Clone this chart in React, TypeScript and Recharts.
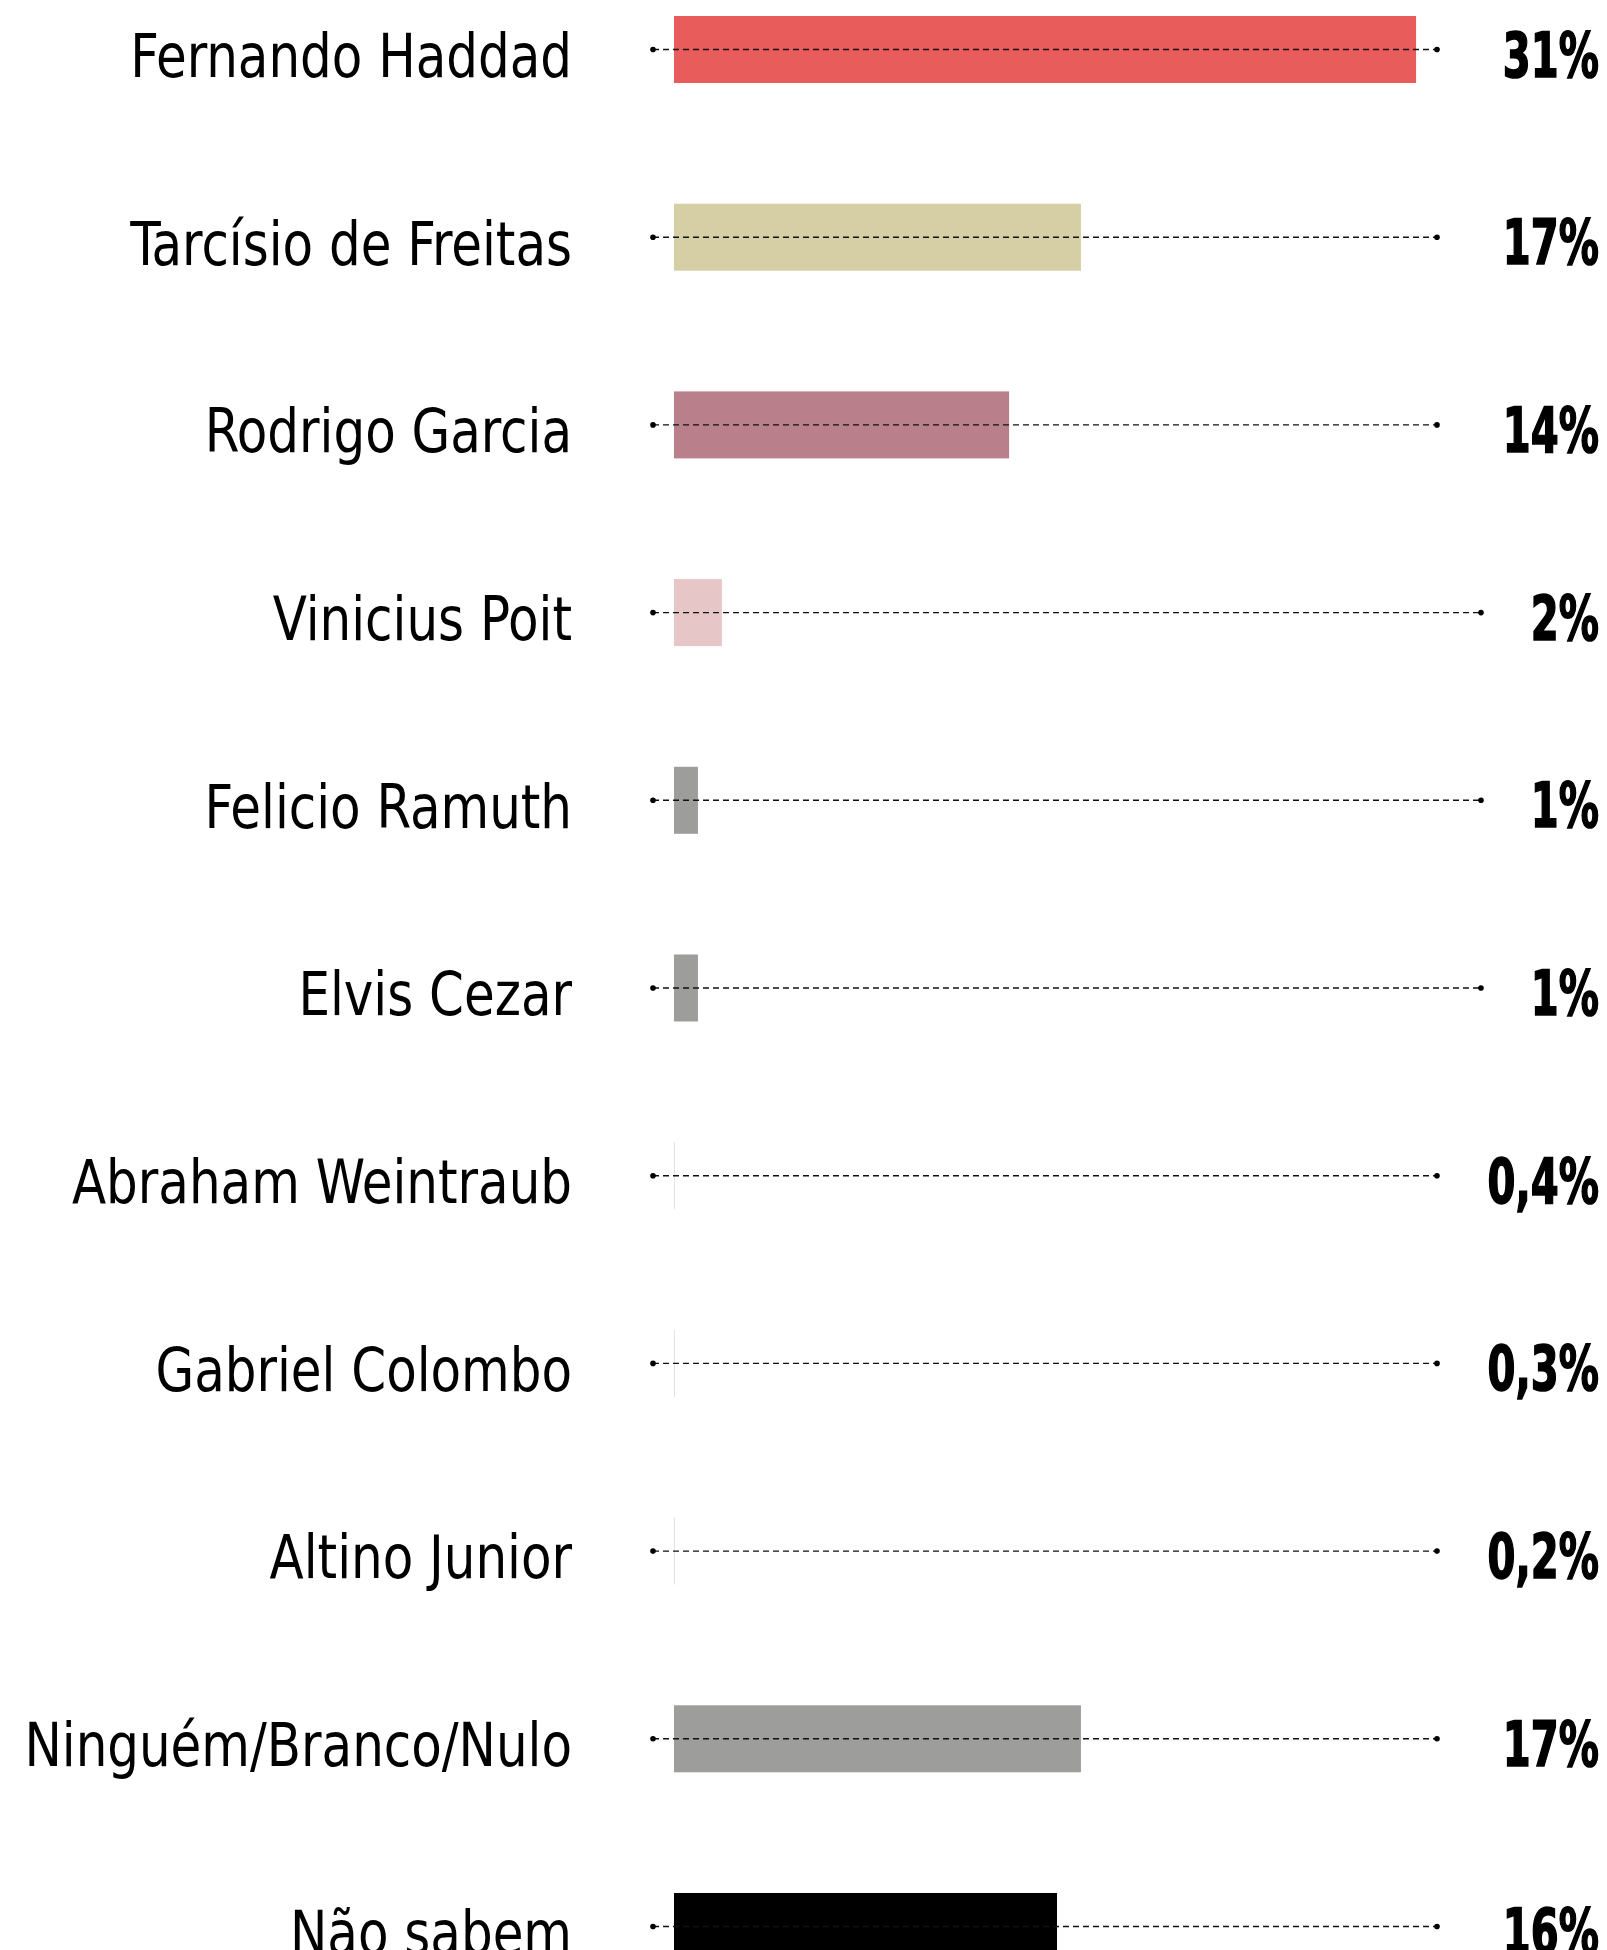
import React from 'react';
import { BarChart, Bar, XAxis, YAxis, Cell, LabelList } from 'recharts';

const candidates = [
  'Fernando Haddad',
  'Tarcísio de Freitas',
  'Rodrigo Garcia',
  'Vinicius Poit',
  'Felicio Ramuth',
  'Elvis Cezar',
  'Abraham Weintraub',
  'Gabriel Colombo',
  'Altino Junior',
  'Ninguém/Branco/Nulo',
  'Não sabem',
];
const shares = [31, 17, 14, 2, 1, 1, 0.4, 0.3, 0.2, 17, 16];
const shareLabels = ['31%', '17%', '14%', '2%', '1%', '1%', '0,4%', '0,3%', '0,2%', '17%', '16%'];
const barColors = [
  '#e85c5b', '#d6cfa5', '#b97f8a', '#e6c6c6', '#9d9d9c', '#9d9d9c',
  '#e3e3e3', '#e3e3e3', '#e3e3e3', '#9d9d9c', '#000000',
];

const data = candidates.map((name, i) => ({ name, value: shares[i], label: shareLabels[i] }));

const W = 1607;
const ROW = 187.7;
const CHART_H = ROW * candidates.length;
const FONT = "'DejaVu Sans Condensed', 'DejaVu Sans', sans-serif";

function NameTick(props: any) {
  const { x, y, payload } = props;
  return (
    <text transform={`translate(${x} ${y}) scale(0.91 1)`} x={0} y={0} dy={27} textAnchor="end" fill="#000"
      style={{ fontFamily: FONT, fontSize: 61, fontStretch: 'condensed' }}>
      {payload.value}
    </text>
  );
}

// bar plus the dotted guide that runs on top of it
function BarWithGuide(props: any) {
  const { x, y, width, height, fill, background, payload } = props;
  const cy = y + height / 2;
  const bandRight = background ? background.x + background.width : 1440;
  const start = x - 21;
  const end = bandRight - 3 + (payload.label.length <= 2 ? 44 : 0);
  const w = payload.value < 1 ? 1 : width;
  return (
    <g>
      <rect x={x} y={y} width={w} height={height} fill={fill} />
      <line x1={start} x2={end} y1={cy} y2={cy} stroke="#111" strokeWidth={1.4} strokeDasharray="6 4" />
      <circle cx={start} cy={cy} r={2.8} fill="#000" />
      <circle cx={end} cy={cy} r={2.8} fill="#000" />
    </g>
  );
}

function ValueLabel(props: any) {
  const { y, height, value } = props;
  return (
    <text transform={`translate(${W - 8} ${y + height / 2}) scale(0.72 1)`} x={0} y={0} dy={27}
      textAnchor="end" fill="#000" stroke="#000" strokeWidth={1.6}
      style={{ fontFamily: FONT, fontSize: 62, fontWeight: 700, fontStretch: 'condensed' }}>
      {value}
    </text>
  );
}

export default function App() {
  return (
    <div style={{ position: 'absolute', left: 0, top: 0, width: W, height: 1950, overflow: 'hidden', background: '#fff' }}>
      <div style={{ marginTop: -44.5 }}>
        <BarChart width={W} height={CHART_H} data={data} layout="vertical"
          margin={{ top: 0, right: 167, left: 0, bottom: 0 }}>
          <XAxis type="number" domain={[0, 32]} hide />
          <YAxis type="category" dataKey="name" width={674} axisLine={false} tickLine={false}
            tickSize={0} tickMargin={102} tick={<NameTick />} interval={0} />
          <Bar dataKey="value" barSize={67} isAnimationActive={false} shape={<BarWithGuide />}>
            {data.map((d, i) => (
              <Cell key={d.name} fill={barColors[i]} />
            ))}
            <LabelList dataKey="label" content={<ValueLabel />} />
          </Bar>
        </BarChart>
      </div>
    </div>
  );
}
